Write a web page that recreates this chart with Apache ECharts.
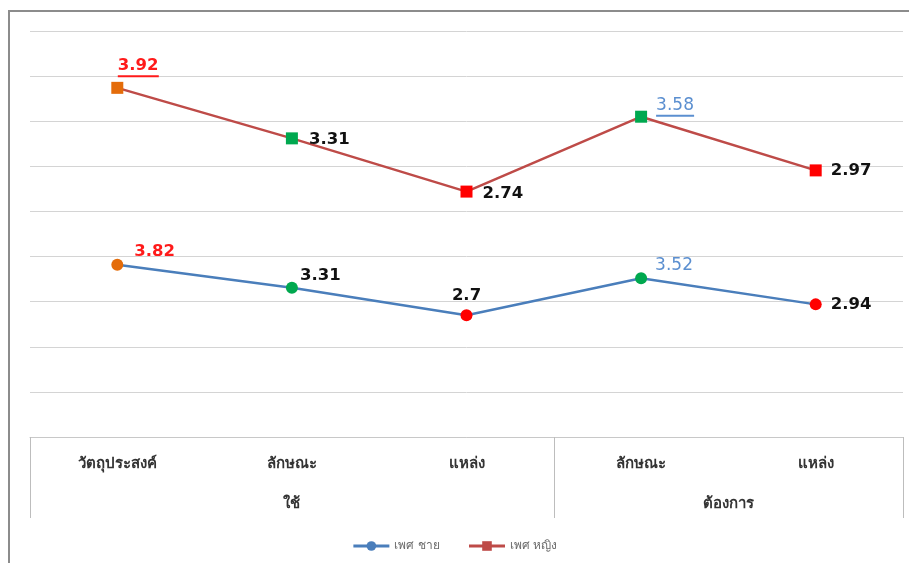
<!DOCTYPE html>
<html>
<head>
<meta charset="utf-8">
<script src="https://cdn.jsdelivr.net/npm/echarts@6/dist/echarts.min.js"></script>
<style>
  html, body { margin: 0; padding: 0; background: #ffffff; }
  #frame { position: absolute; left: 8px; top: 10px; width: 910px; height: 560px;
           border-left: 2px solid #8c8c8c; border-top: 2px solid #8c8c8c; }
  #chart { position: absolute; left: 0; top: 0; width: 909px; height: 563px; }
</style>
</head>
<body>
<div id="frame"></div>
<div id="chart"></div>
<script>
// Categories (first row) and their groups (second row)
const categories = ['วัตถุประสงค์', 'ลักษณะ', 'แหล่ง', 'ลักษณะ', 'แหล่ง'];
const groups = [
  { name: 'ใช้', start: 0, end: 3 },
  { name: 'ต้องการ', start: 3, end: 5 }
];
const seriesNames = ['เพศ ชาย', 'เพศ หญิง'];
const maleValues = [3.82, 3.31, 2.7, 3.52, 2.94];
const femaleValues = [3.92, 3.31, 2.74, 3.58, 2.97];

const pointColors = ['#e46c0a', '#00a84f', '#ff0000', '#00a84f', '#ff0000'];
const labelColors = ['#ff1a1a', '#111111', '#111111', '#5b8fd0', '#111111'];
const labelWeights = ['bold', 'bold', 'bold', 'normal', 'bold'];
const font = 'Tahoma, "Noto Sans", "DejaVu Sans", sans-serif';
const numFont = '"DejaVu Sans", sans-serif';

const maleLabelPos = [
  { position: 'right', offset: [3, -13] },
  { position: 'right', offset: [-6, -12] },
  { position: 'top', offset: [0, 3] },
  { position: 'right', offset: [0, -13] },
  { position: 'right', offset: [1, 0] }
];
const femaleLabelPos = [
  { position: 'top', offset: [21, 0], underline: 41 },
  { position: 'right', offset: [3, 1] },
  { position: 'right', offset: [2, 2] },
  { position: 'right', offset: [1, -14], underline: 38 },
  { position: 'right', offset: [1, 0] }
];

function buildData(values, layout) {
  return values.map((v, i) => {
    const lp = layout[i];
    const c = labelColors[i];
    const w = labelWeights[i];
    const size = w === 'bold' ? 16.5 : 17;
    const label = {
      show: true,
      position: lp.position,
      offset: lp.offset,
      distance: 8,
      color: c,
      fontWeight: w,
      fontSize: size,
      fontFamily: numFont
    };
    if (lp.underline) {
      label.formatter = '{t|' + v + '}\n{u|}';
      label.rich = {
        t: { color: c, fontWeight: w, fontSize: size, fontFamily: numFont, lineHeight: 18, align: 'left' },
        u: { backgroundColor: c, width: lp.underline, height: 2, lineHeight: 3, align: 'left' }
      };
      label.offset = [lp.offset[0], lp.offset[1] + 4];
    }
    return { value: v, itemStyle: { color: pointColors[i] }, label: label };
  });
}

const groupLabelValues = groups.map(g => (g.start + g.end) / 2);
const groupEdges = [0].concat(groups.map(g => g.end));

const chart = echarts.init(document.getElementById('chart'), null, { renderer: 'canvas' });
chart.setOption({
  animation: false,
  backgroundColor: 'transparent',
  grid: { left: 30, right: 6, top: 31, bottom: 126, containLabel: false },
  legend: {
    data: seriesNames,
    bottom: 6,
    left: 'center',
    itemWidth: 36,
    itemHeight: 12,
    itemGap: 28,
    itemStyle: {},
    lineStyle: { width: 3 },
    textStyle: { color: '#6b6b6b', fontSize: 12, fontFamily: font }
  },
  xAxis: [
    {
      type: 'category',
      data: categories,
      boundaryGap: true,
      axisLine: { show: true, lineStyle: { color: '#c8c8c8', width: 1 } },
      axisTick: { show: false },
      axisLabel: { margin: 19, color: '#333333', fontSize: 15, fontWeight: 'bold', fontFamily: font }
    },
    {
      type: 'value',
      min: 0,
      max: categories.length,
      position: 'bottom',
      splitLine: { show: false },
      axisLine: { show: false },
      axisTick: {
        show: true,
        customValues: groupEdges,
        length: 81,
        lineStyle: { color: '#bdbdbd', width: 1 }
      },
      axisLabel: {
        show: true,
        customValues: groupLabelValues,
        margin: 59,
        color: '#333333',
        fontSize: 15,
        fontWeight: 'bold',
        fontFamily: font,
        formatter: v => {
          const g = groups.find(gr => (gr.start + gr.end) / 2 === v);
          return g ? g.name : '';
        }
      }
    }
  ],
  yAxis: {
    type: 'value',
    min: 0,
    max: 9,
    interval: 1,
    axisLine: { show: false },
    axisTick: { show: false },
    axisLabel: { show: false },
    splitLine: { show: true, lineStyle: { color: '#d4d4d4', width: 1 } }
  },
  series: [
    {
      name: seriesNames[0],
      type: 'line',
      stack: 'total',
      xAxisIndex: 0,
      data: buildData(maleValues, maleLabelPos),
      symbol: 'circle',
      symbolSize: 12,
      lineStyle: { color: '#4a7ebb', width: 2.5 },
      itemStyle: { color: '#4a7ebb' },
      z: 3
    },
    {
      name: seriesNames[1],
      type: 'line',
      stack: 'total',
      xAxisIndex: 0,
      data: buildData(femaleValues, femaleLabelPos),
      symbol: 'rect',
      symbolSize: 12,
      lineStyle: { color: '#be4b48', width: 2.5 },
      itemStyle: { color: '#be4b48' },
      z: 3
    }
  ]
});
</script>
</body>
</html>
